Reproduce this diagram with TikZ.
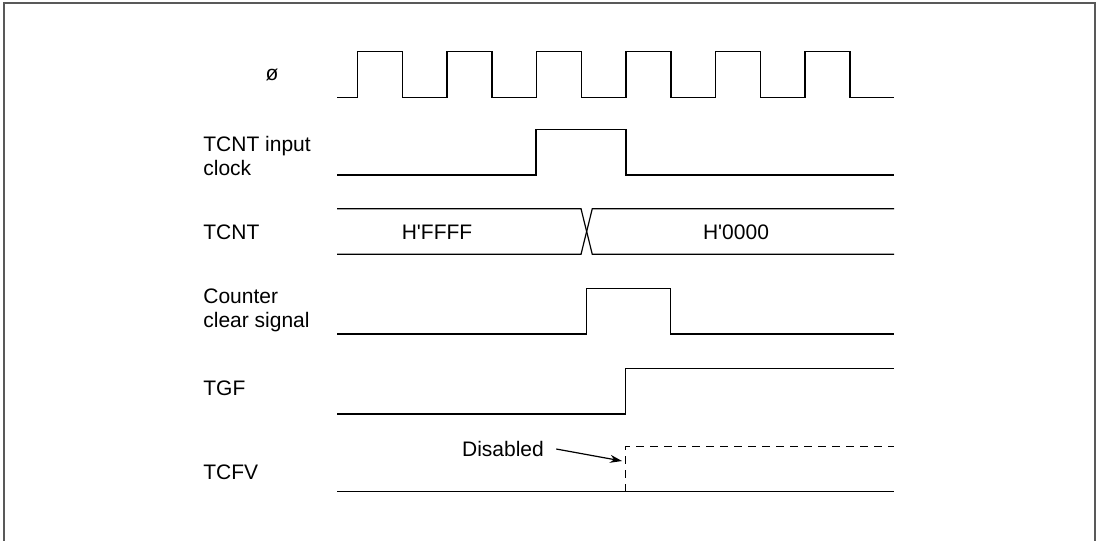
\documentclass[tikz,border=0pt]{standalone}
\usepackage{fontspec}
\setmainfont{Liberation Sans}
\usepackage{tikz}
\usetikzlibrary{arrows.meta}

\begin{document}
\begin{tikzpicture}[
    x=0.5pt, y=-0.5pt,
    lbl/.style={anchor=west, align=left, inner sep=0pt, font=\fontsize{10.5pt}{12pt}\selectfont},
    val/.style={inner sep=0pt, font=\fontsize{10.5pt}{12pt}\selectfont},
    sig/.style={line width=0.6pt, line join=miter},
    dsig/.style={sig, dash pattern=on 4pt off 3pt},
    arr/.style={-{Stealth[length=6pt, width=4pt]}, line width=0.6pt},
    frame/.style={line width=0.6pt, draw=black!65}
]
\useasboundingbox (0,0) rectangle (1100,541);
% --- Frame ---
\draw[frame] (4,541) -- (4,3) -- (1095,3) -- (1095,541);

% --- Labels ---
\node[val] (phiLbl) at (272,75) {ø};
\node[lbl] (clkLbl) at (203,156) {TCNT input\\clock};
\node[lbl] (tcntLbl) at (203,232) {TCNT};
\node[lbl] (clrLbl) at (203,310) {Counter\\clear signal};
\node[lbl] (tgfLbl) at (203,388) {TGF};
\node[lbl] (tcfvLbl) at (203,472) {TCFV};

% --- phi clock ---
\draw[sig] (337,97.7) \foreach \k in {0,...,5} {
    -- ({357.5+89.5*\k},97.7) -- ++(0,-46) -- ({402.5+89.5*\k},51.7) -- ++(0,46)
  } -- (894,97.7);

% --- TCNT input clock ---
\draw[sig] (337,175) -- (536,175) -- (536,129.3) -- (626,129.3) -- (626,175) -- (894,175);

% --- TCNT ---
\draw[sig] (337,208.7) -- (581,208.7) -- (592.3,254.3) -- (894,254.3);
\draw[sig] (337,254.3) -- (581,254.3) -- (592.3,208.7) -- (894,208.7);
\node[val] (ffff) at (437,232) {H\textquotesingle FFFF};
\node[val] (zero) at (736,232) {H\textquotesingle 0000};

% --- Counter clear signal ---
\draw[sig] (337,334) -- (586.7,334) -- (586.7,288.3) -- (670.7,288.3) -- (670.7,334) -- (894,334);

% --- TGF ---
\draw[sig] (337,414) -- (625.3,414) -- (625.3,368.3) -- (894,368.3);

% --- TCFV ---
\draw[sig] (337,491.7) -- (894,491.7);
\draw[dsig] (625.3,491.7) -- (625.3,446.7) -- (894,446.7);
\node[val, inner xsep=6pt] (dis) at (503,449) {Disabled};
\coordinate (disTip) at (622,461);
\draw[arr] (dis.east) -- (disTip);
\end{tikzpicture}
\end{document}
